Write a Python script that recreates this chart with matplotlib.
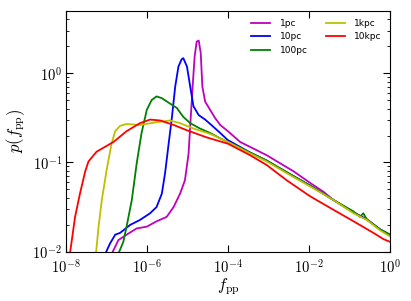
import numpy as np
import matplotlib
matplotlib.use('Agg')
import matplotlib.pyplot as plt
from matplotlib.ticker import NullLocator, NullFormatter, FuncFormatter

plt.rcParams['mathtext.fontset'] = 'cm'

# valors llegits del grafic: log10(f_pp) i log10(p)
lx_1pc = [-6.84, -6.70, -6.50, -6.25, -6.00, -5.76, -5.51, -5.34, -5.18, -5.06, -4.97, -4.92, -4.87,
          -4.82, -4.77, -4.72, -4.67, -4.63, -4.56, -4.44, -4.32, -4.19, -4.00, -3.70, -3.04, -2.38,
          -1.97, -1.64, -1.40, -0.90, -0.57, -0.25, 0.0]
ly_1pc = [-2.0, -1.87, -1.81, -1.74, -1.72, -1.66, -1.61, -1.50, -1.35, -1.20, -0.90, -0.52, -0.15,
          0.19, 0.355, 0.366, 0.224, -0.15, -0.32, -0.41, -0.50, -0.58, -0.65, -0.77, -0.92, -1.10,
          -1.23, -1.33, -1.42, -1.56, -1.64, -1.75, -1.82]

lx_10pc = [-7.00, -6.91, -6.78, -6.66, -6.41, -6.17, -5.92, -5.76, -5.63, -5.55, -5.47, -5.38, -5.30,
           -5.22, -5.14, -5.10, -5.01, -4.93, -4.85, -4.72, -4.56, -4.36, -4.19, -4.00, -3.45, -3.04,
           -2.55, -1.97, -1.40, -0.90, -0.57, -0.25, 0.0]
ly_10pc = [-2.0, -1.91, -1.81, -1.79, -1.70, -1.645, -1.57, -1.50, -1.35, -1.12, -0.82, -0.49, -0.15,
           0.075, 0.157, 0.168, 0.075, -0.15, -0.37, -0.47, -0.52, -0.60, -0.67, -0.75, -0.89, -0.98,
           -1.11, -1.26, -1.42, -1.56, -1.64, -1.75, -1.81]

lx_100pc = [-6.68, -6.58, -6.50, -6.37, -6.25, -6.13, -6.00, -5.88, -5.76, -5.63, -5.43, -5.26, -5.10,
            -4.93, -4.69, -4.44, -4.19, -4.00, -3.45, -3.04, -2.55, -1.97, -1.40, -0.90, -0.74, -0.66,
            -0.57, -0.25, 0.0]
ly_100pc = [-2.0, -1.89, -1.72, -1.42, -1.01, -0.67, -0.41, -0.30, -0.26, -0.28, -0.34, -0.39, -0.49,
            -0.56, -0.62, -0.67, -0.73, -0.77, -0.89, -0.98, -1.11, -1.26, -1.42, -1.55, -1.61, -1.57,
            -1.64, -1.75, -1.81]

lx_1kpc = [-7.25, -7.19, -7.11, -6.99, -6.87, -6.78, -6.66, -6.50, -6.17, -5.76, -5.43, -5.18, -4.85,
           -4.44, -4.00, -3.45, -3.04, -2.55, -1.97, -1.40, -0.90, -0.57, -0.25, 0.0]
ly_1kpc = [-2.0, -1.72, -1.42, -1.08, -0.79, -0.65, -0.59, -0.57, -0.58, -0.55, -0.53, -0.56, -0.62,
           -0.68, -0.77, -0.90, -0.99, -1.12, -1.27, -1.42, -1.57, -1.645, -1.76, -1.83]

lx_10kpc = [-7.89, -7.77, -7.65, -7.52, -7.44, -7.24, -6.82, -6.50, -6.17, -5.92, -5.67, -5.34, -5.01,
            -4.52, -4.00, -3.45, -3.04, -2.55, -1.97, -1.40, -0.90, -0.41, -0.16, 0.0]
ly_10kpc = [-2.0, -1.61, -1.35, -1.10, -0.99, -0.88, -0.77, -0.65, -0.56, -0.52, -0.53, -0.58, -0.64,
            -0.72, -0.79, -0.92, -1.03, -1.20, -1.38, -1.53, -1.66, -1.79, -1.86, -1.89]

escales = ['1pc', '10pc', '100pc', '1kpc', '10kpc']
colors = ['m', 'b', 'g', 'y', 'r']
dades = [(lx_1pc, ly_1pc), (lx_10pc, ly_10pc), (lx_100pc, ly_100pc),
         (lx_1kpc, ly_1kpc), (lx_10kpc, ly_10kpc)]

def potencia(v, pos):
    return r'$10^{%d}$' % int(round(np.log10(v)))

fig = plt.figure(figsize=(4.11, 3.01), dpi=100)
ax = fig.add_axes([0.160, 0.164, 0.789, 0.800])

for (lx, ly), c, nom in zip(dades, colors, escales):
    ax.plot(10 ** np.array(lx), 10 ** np.array(ly), color=c, lw=1.3, label=nom)

ax.set_xscale('log')
ax.set_yscale('log')
ax.set_xlim(1e-8, 1)
ax.set_ylim(1e-2, 5)
ax.set_xticks([1e-8, 1e-6, 1e-4, 1e-2, 1])
ax.xaxis.set_minor_locator(NullLocator())
ax.xaxis.set_major_formatter(FuncFormatter(potencia))
ax.yaxis.set_major_formatter(FuncFormatter(potencia))
ax.yaxis.set_minor_formatter(NullFormatter())
ax.tick_params(which='both', direction='in', top=True, right=True, labelsize=10.5)
ax.tick_params(axis='y', pad=2.5)
ax.tick_params(axis='x', pad=4.5)
ax.tick_params(which='major', length=5)
ax.tick_params(which='minor', length=2.5)
ax.set_xlabel(r'$f_{\rm pp}$', fontsize=12, labelpad=0)
ax.set_ylabel(r'$p(f_{\rm pp})$', fontsize=12, labelpad=4)
ax.legend(ncol=2, frameon=False, fontsize=6.5, loc='upper right', handlelength=2.1,
          handletextpad=1.0, columnspacing=2.1)

plt.savefig('out.png', dpi=100)
plt.close('all')
